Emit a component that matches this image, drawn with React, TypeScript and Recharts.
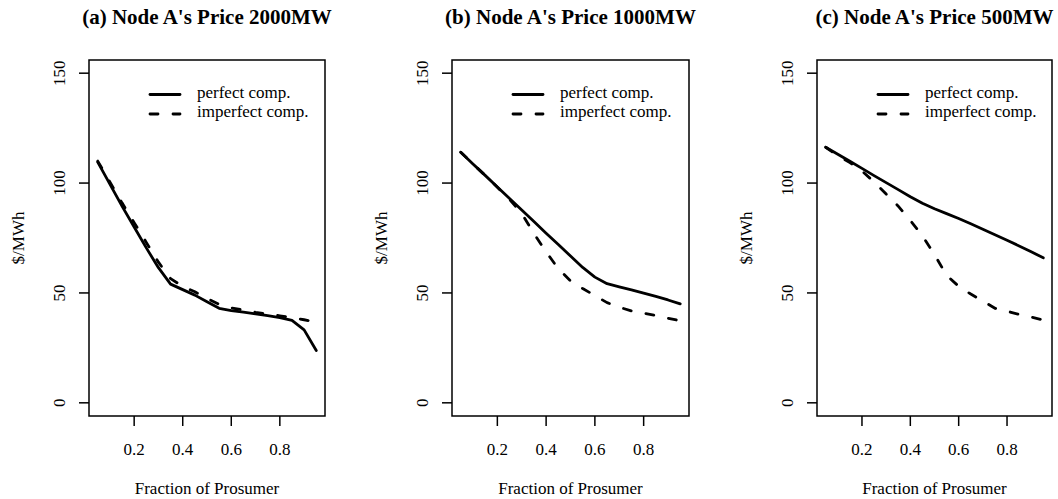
import React from "react";
import {
  LineChart,
  Line,
  XAxis,
  YAxis,
  ReferenceArea,
  Legend,
  Label,
} from "recharts";

const SERIF = '"Liberation Serif", "Times New Roman", Times, serif';

// x values shared by every panel
const fractions = [
  0.05, 0.1, 0.15, 0.2, 0.25, 0.3, 0.35, 0.4, 0.45, 0.5, 0.55, 0.6, 0.65, 0.7,
  0.75, 0.8, 0.85, 0.9, 0.95,
];

// price at node A, $/MWh
const perfect2000 = [
  109.5, 99.5, 89.5, 80, 70.5, 61.5, 54, 51.5, 49, 46, 43, 42, 41.3, 40.5, 39.7,
  38.8, 37.5, 33.2, 23.8,
];
const imperfect2000 = [
  110, 100.5, 91, 82, 73, 64, 56.5, 53, 50.5, 47.5, 44.8, 43.2, 42.2, 41.2,
  40.4, 39.6, 38.8, 37.8, 36.7,
];
const perfect1000 = [
  114, 108.7, 103.5, 98.2, 93, 87.7, 82.5, 77.2, 72, 66.8, 61.6, 57.2, 54.2,
  52.8, 51.4, 49.9, 48.4, 46.8, 45,
];
const imperfect1000 = [
  114, 108.7, 103.5, 98.1, 92.6, 86.2, 77, 68.7, 61, 55.5, 52, 48.8, 45.6, 43.5,
  41.8, 40.8, 39.7, 38.5, 37.3,
];
const perfect500 = [
  116.3, 113.1, 109.9, 106.7, 103.4, 100.2, 97, 93.8, 90.8, 88.3, 86.1, 83.9,
  81.5, 79, 76.5, 74, 71.4, 68.7, 66,
];
const imperfect500 = [
  116.3, 112.5, 109.3, 105.5, 100.5, 95, 89.5, 83, 76, 67.5, 58, 53, 49.5, 46.3,
  43, 41.7, 40.2, 39, 37.7,
];

const seriesNames = ["perfect comp.", "imperfect comp."];
const xTicks = [0.2, 0.4, 0.6, 0.8];
const yTicks = [0, 50, 100, 150];

// R-style axis limits: data range padded by 4%
const X_DOMAIN: [number, number] = [0.014, 0.986];
const Y_DOMAIN: [number, number] = [-6, 156];

const panels = [
  { title: "(a) Node A's Price 2000MW", perfect: perfect2000, imperfect: imperfect2000, boxLeft: 89, boxWidth: 236 },
  { title: "(b) Node A's Price 1000MW", perfect: perfect1000, imperfect: imperfect1000, boxLeft: 452, boxWidth: 237 },
  { title: "(c) Node A's Price 500MW", perfect: perfect500, imperfect: imperfect500, boxLeft: 817, boxWidth: 235 },
];

const Y_AXIS_W = 90;
const TOP = 60;
const PLOT_BOTTOM = 416;
const HEIGHT = 499;
const DASH = "8 15";
const LINE_W = 2.8;

function YTick(props: any) {
  const { x, y, payload } = props;
  return (
    <text
      x={x}
      y={y}
      transform={`rotate(-90, ${x}, ${y})`}
      textAnchor="middle"
      fontSize={17}
      fontFamily={SERIF}
      fill="#000"
    >
      {payload.value}
    </text>
  );
}

function XTick(props: any) {
  const { x, y, payload } = props;
  return (
    <text x={x} y={y} textAnchor="middle" fontSize={17} fontFamily={SERIF} fill="#000">
      {payload.value}
    </text>
  );
}

function Panel({ title, perfect, imperfect, boxLeft, boxWidth }: (typeof panels)[number]) {
  const data = fractions.map((f, i) => ({
    fraction: f,
    perfect: perfect[i],
    imperfect: imperfect[i],
  }));
  const width = Y_AXIS_W + boxWidth + 10;
  const lx = Y_AXIS_W;

  return (
    <div style={{ position: "absolute", left: boxLeft - Y_AXIS_W, top: 0 }}>
      <LineChart
        width={width}
        height={HEIGHT}
        data={data}
        margin={{ top: TOP, right: 10, bottom: 0, left: 0 }}
      >
        <XAxis
          dataKey="fraction"
          type="number"
          domain={X_DOMAIN}
          ticks={xTicks}
          height={HEIGHT - PLOT_BOTTOM}
          axisLine={false}
          tickLine={{ stroke: "#000", strokeWidth: 1.5 }}
          tickSize={10}
          tickMargin={29}
          tick={<XTick />}
          interval={0}
        >
          <Label
            content={({ viewBox }: any) => (
              <text
                x={viewBox.x + viewBox.width / 2}
                y={viewBox.y + 78}
                textAnchor="middle"
                fontSize={17}
                fontFamily={SERIF}
                fill="#000"
              >
                Fraction of Prosumer
              </text>
            )}
          />
        </XAxis>
        <YAxis
          type="number"
          domain={Y_DOMAIN}
          ticks={yTicks}
          width={Y_AXIS_W}
          axisLine={false}
          tickLine={{ stroke: "#000", strokeWidth: 1.5 }}
          tickSize={10}
          tickMargin={14}
          tick={<YTick />}
          interval={0}
        >
          <Label
            content={() => (
              <text
                x={24.5}
                y={(TOP + PLOT_BOTTOM) / 2}
                transform={`rotate(-90, 24.5, ${(TOP + PLOT_BOTTOM) / 2})`}
                textAnchor="middle"
                fontSize={17}
                fontFamily={SERIF}
                fill="#000"
              >
                $/MWh
              </text>
            )}
          />
        </YAxis>
        <ReferenceArea
          x1={X_DOMAIN[0]}
          x2={X_DOMAIN[1]}
          y1={Y_DOMAIN[0]}
          y2={Y_DOMAIN[1]}
          fill="none"
          fillOpacity={0}
          stroke="#000"
          strokeWidth={1.5}
          ifOverflow="visible"
        >
          <Label
            content={({ viewBox }: any) => (
              <text
                x={viewBox.x + viewBox.width / 2}
                y={24}
                textAnchor="middle"
                fontSize={21}
                fontWeight="bold"
                fontFamily={SERIF}
                fill="#000"
              >
                {title}
              </text>
            )}
          />
        </ReferenceArea>
        <Line
          type="linear"
          dataKey="perfect"
          name={seriesNames[0]}
          stroke="#000"
          strokeWidth={LINE_W}
          strokeLinecap="round"
          strokeLinejoin="round"
          dot={false}
          activeDot={false}
          isAnimationActive={false}
        />
        <Line
          type="linear"
          dataKey="imperfect"
          name={seriesNames[1]}
          stroke="#000"
          strokeWidth={LINE_W}
          strokeDasharray={DASH}
          strokeLinecap="round"
          strokeLinejoin="round"
          dot={false}
          activeDot={false}
          isAnimationActive={false}
        />
        <Legend
          layout="horizontal"
          verticalAlign="middle"
          align="center"
          wrapperStyle={{ left: 0, top: 0, width, height: 140 }}
          content={() => (
            <svg width={width} height={140} style={{ display: "block" }}>
              {seriesNames.map((name, i) => {
                const y = 94.5 + i * 19.5;
                return (
                  <g key={name}>
                    <line
                      x1={lx + 61}
                      x2={lx + 91}
                      y1={y}
                      y2={y}
                      stroke="#000"
                      strokeWidth={LINE_W}
                      strokeLinecap="round"
                      strokeDasharray={i === 1 ? DASH : undefined}
                    />
                    <text
                      x={lx + 108}
                      y={y + 3.2}
                      fontSize={17}
                      fontFamily={SERIF}
                      fill="#000"
                    >
                      {name}
                    </text>
                  </g>
                );
              })}
            </svg>
          )}
        />
      </LineChart>
    </div>
  );
}

export default function App() {
  return (
    <div
      style={{
        position: "absolute",
        left: 0,
        top: 0,
        width: 1058,
        height: HEIGHT,
        background: "#fff",
        overflow: "hidden",
      }}
    >
      {panels.map((p) => (
        <Panel key={p.title} {...p} />
      ))}
    </div>
  );
}
